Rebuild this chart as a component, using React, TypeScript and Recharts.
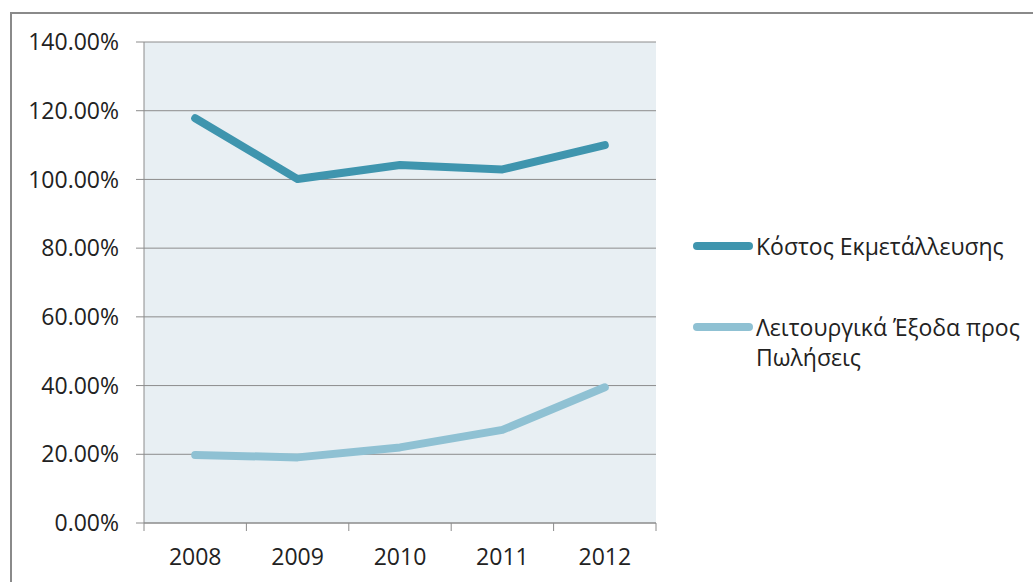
import { LineChart, Line, XAxis, YAxis, CartesianGrid, Legend } from 'recharts';

const years = ['2008', '2009', '2010', '2011', '2012'];
const operatingCost = [117.8, 100.1, 104.2, 102.9, 110.0];
const expensesToSales = [19.8, 19.1, 22.0, 27.1, 39.5];
const yTicks = [0, 20, 40, 60, 80, 100, 120, 140];

const seriesNames = ['Κόστος Εκμετάλλευσης', 'Λειτουργικά Έξοδα προς Πωλήσεις'];
const seriesColors = ['#3f95ae', '#8fc1d3'];

const data = years.map((year, i) => ({
  year,
  cost: operatingCost[i],
  expenses: expensesToSales[i],
}));

const FONT = "'Open Sans', 'Noto Sans', sans-serif";
const TEXT = '#222222';
const AXIS = '#8c8c8c';

const WIDTH = 1033;
const HEIGHT = 582;
const MARGIN = { top: 42, right: 377, bottom: 0, left: 0 };
const Y_WIDTH = 144;
const X_HEIGHT = 59;
const TICK = 8;
const GAP = 18;
const PLOT_W = WIDTH - MARGIN.right - Y_WIDTH;
const BAND = PLOT_W / years.length;

// category labels sit mid-band, the tick marks sit on the band edges
// eslint-disable-next-line @typescript-eslint/no-explicit-any
function YearTick({ x, y, payload, index }: any) {
  const axisY = y - TICK - GAP;
  const left = x - BAND / 2;
  const right = x + BAND / 2;
  return (
    <g>
      <line x1={left} x2={left} y1={axisY} y2={axisY + TICK} stroke={AXIS} />
      {index === years.length - 1 && (
        <line x1={right} x2={right} y1={axisY} y2={axisY + TICK} stroke={AXIS} />
      )}
      <text x={x} y={y} dy="0.71em" textAnchor="middle" fill={TEXT} fontSize={23} fontFamily={FONT}>
        {payload.value}
      </text>
    </g>
  );
}

// eslint-disable-next-line @typescript-eslint/no-explicit-any
function LegendBox({ payload }: any) {
  return (
    <div style={{ fontFamily: FONT, fontSize: 23, color: TEXT, lineHeight: '30px' }}>
      {(payload || []).map((item: any, i: number) => (
        <div key={item.value} style={{ display: 'flex', alignItems: 'flex-start', marginTop: i ? 51 : 0 }}>
          <svg width={60} height={30} style={{ flex: 'none' }}>
            <line x1={4} x2={56} y1={15} y2={15} stroke={item.color} strokeWidth={8} strokeLinecap="round" />
          </svg>
          <span style={{ marginLeft: 3, width: 274 }}>{item.value}</span>
        </div>
      ))}
    </div>
  );
}

export default function App() {
  return (
    <div style={{ position: 'absolute', left: 0, top: 0, width: WIDTH, height: HEIGHT, overflow: 'hidden', background: '#fff' }}>
      <div
        style={{
          position: 'absolute',
          left: 10,
          top: 12,
          width: 1060,
          height: 620,
          border: '2px solid #8a8a8a',
        }}
      />
      <LineChart width={WIDTH} height={HEIGHT} data={data} margin={MARGIN}>
        <CartesianGrid vertical={false} stroke={AXIS} fill="#e8eff3" fillOpacity={1} />
        <XAxis
          dataKey="year"
          height={X_HEIGHT}
          stroke={AXIS}
          padding={{ left: BAND / 2, right: BAND / 2 }}
          tickLine={false}
          tickSize={TICK}
          tickMargin={GAP}
          interval={0}
          tick={<YearTick />}
        />
        <YAxis
          width={Y_WIDTH}
          domain={[0, 140]}
          ticks={yTicks}
          stroke={AXIS}
          tickSize={TICK}
          tickMargin={17}
          tickFormatter={(v: number) => `${v.toFixed(2)}%`}
          tick={{ fill: TEXT, fontSize: 23, fontFamily: FONT }}
        />
        <Legend
          layout="horizontal"
          verticalAlign="middle"
          align="center"
          wrapperStyle={{ left: 693, top: 231, width: 340 }}
          content={<LegendBox />}
        />
        <Line
          dataKey="cost"
          name={seriesNames[0]}
          stroke={seriesColors[0]}
          strokeWidth={8}
          strokeLinecap="round"
          strokeLinejoin="round"
          dot={false}
          activeDot={false}
          isAnimationActive={false}
        />
        <Line
          dataKey="expenses"
          name={seriesNames[1]}
          stroke={seriesColors[1]}
          strokeWidth={8}
          strokeLinecap="round"
          strokeLinejoin="round"
          dot={false}
          activeDot={false}
          isAnimationActive={false}
        />
      </LineChart>
    </div>
  );
}
